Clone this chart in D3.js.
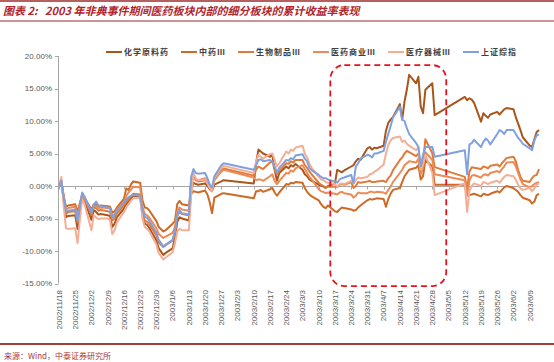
<!DOCTYPE html>
<html>
<head>
<meta charset="utf-8">
<title>2003 非典期间医药细分板块累计收益率</title>
<script src="https://d3js.org/d3.v7.min.js"></script>
<style>
  body { margin: 0; background: #fff; }
  text { font-family: Arial, "Liberation Sans", sans-serif; }
  .cjk { font-family: "Noto Sans CJK SC", sans-serif; }
</style>
</head>
<body>
<svg id="chart" width="554" height="362"></svg>
<script>
// trading dates (holidays show as straight segments)
var dates = ["2002/11/18","2002/11/19","2002/11/20","2002/11/21","2002/11/22","2002/11/25","2002/11/26","2002/11/27","2002/11/28","2002/11/29",
  "2002/12/2","2002/12/3","2002/12/4","2002/12/5","2002/12/6","2002/12/9","2002/12/10","2002/12/11","2002/12/12","2002/12/13",
  "2002/12/16","2002/12/17","2002/12/18","2002/12/19","2002/12/20","2002/12/23","2002/12/24","2002/12/25","2002/12/26","2002/12/27",
  "2002/12/30","2002/12/31","2003/1/2","2003/1/3","2003/1/6","2003/1/7","2003/1/8","2003/1/9","2003/1/10","2003/1/13",
  "2003/1/14","2003/1/15","2003/1/16","2003/1/17","2003/1/20","2003/1/21","2003/1/22","2003/1/23","2003/1/24","2003/1/27",
  "2003/1/28","2003/2/10","2003/2/11","2003/2/12","2003/2/13","2003/2/14","2003/2/17","2003/2/18","2003/2/19","2003/2/20",
  "2003/2/21","2003/2/24","2003/2/25","2003/2/26","2003/2/27","2003/2/28","2003/3/3","2003/3/4","2003/3/5","2003/3/6",
  "2003/3/7","2003/3/10","2003/3/11","2003/3/12","2003/3/13","2003/3/14","2003/3/17","2003/3/18","2003/3/19","2003/3/20",
  "2003/3/21","2003/3/24","2003/3/25","2003/3/26","2003/3/27","2003/3/28","2003/3/31","2003/4/1","2003/4/2","2003/4/3",
  "2003/4/4","2003/4/7","2003/4/8","2003/4/9","2003/4/10","2003/4/11","2003/4/14","2003/4/15","2003/4/16","2003/4/17",
  "2003/4/18","2003/4/21","2003/4/22","2003/4/23","2003/4/24","2003/4/25","2003/4/28","2003/4/29","2003/5/12","2003/5/13",
  "2003/5/14","2003/5/15","2003/5/16","2003/5/19","2003/5/20","2003/5/21","2003/5/22","2003/5/23","2003/5/26","2003/5/27",
  "2003/5/28","2003/5/29","2003/5/30","2003/6/2","2003/6/3","2003/6/4","2003/6/5","2003/6/6","2003/6/9","2003/6/10",
  "2003/6/11","2003/6/12","2003/6/13"];

// cumulative return, %
var chemApi = [0,0.6,-2.0,-4.8,-4.6,-4.5,-6.6,-3.8,-1.6,-2.3,
  -5.2,-3.7,-4.0,-4.4,-4.3,-4.5,-4.6,-6.3,-5.8,-4.8,
  -3.5,-2.8,-2.4,-2.0,-1.5,-1.6,-4.5,-5.8,-6.0,-6.5,
  -8.4,-9.6,-10.6,-10.3,-9.6,-8.0,-5.5,-4.8,-5.0,-5.3,
  -0.6,0.5,0.3,0.2,0.4,0.0,-0.5,-0.8,0.2,0.7,
  0.9,0.4,3.5,5.6,5.3,5.0,4.5,4.8,2.5,0.8,
  2.0,3.0,2.7,3.2,3.0,3.4,2.5,1.8,1.5,1.0,
  0.8,0.2,0.1,-0.1,-0.3,0.0,0.4,2.5,2.3,2.1,
  2.4,3.0,3.2,3.8,4.2,4.0,5.8,6.0,5.6,5.9,
  5.8,6.2,8.5,9.7,10.2,10.6,12.6,10.2,13.0,14.8,
  17.1,15.8,16.8,12.2,11.2,14.8,15.8,10.9,13.7,13.2,
  13.5,13.3,12.8,9.9,11.2,10.8,10.5,11.0,11.4,11.0,
  11.4,11.8,12.0,11.8,10.6,9.6,8.6,7.5,6.2,6.0,
  7.2,8.3,8.6];
var tcm = [0,0.8,-1.5,-3.2,-3.0,-2.8,-4.0,-2.6,-1.3,-1.8,
  -3.6,-2.8,-2.8,-3.1,-3.0,-3.1,-3.2,-4.1,-3.9,-3.3,
  -2.0,-0.4,-0.6,0.2,0.7,0.5,-2.2,-3.3,-3.4,-3.8,
  -5.4,-6.3,-7.0,-6.8,-5.8,-5.4,-2.8,-2.3,-2.8,-3.0,
  -1.2,-0.8,-0.9,-1.0,-0.7,-1.3,-2.5,-4.2,-1.8,-1.2,
  -1.1,-1.9,-0.8,-0.8,-0.6,-0.9,-0.5,-0.3,-1.0,-1.5,
  -1.0,0.3,0.2,0.5,0.4,0.6,0.5,-0.3,-0.9,-1.3,
  -1.6,-2.2,-2.8,-3.2,-3.4,-3.0,-3.9,-4.0,-3.6,-3.3,
  -3.4,-3.6,-3.8,-3.7,-3.3,-3.0,-2.2,-2.0,-2.1,-2.0,
  -1.9,-2.0,-3.2,-2.0,-1.2,-0.6,-0.3,0.6,1.5,2.0,
  2.5,2.8,3.2,1.0,1.5,4.0,3.0,0.2,0.2,-1.4,
  -1.4,-1.3,-1.2,-1.6,-1.2,-1.3,-1.4,-1.2,-0.8,-1.0,
  -0.6,-0.2,0.0,-0.3,-0.6,-0.9,-1.4,-1.8,-2.2,-2.7,
  -2.4,-1.4,-1.2];
var bio = [0,0.7,-1.8,-4.3,-4.0,-3.9,-5.6,-3.4,-1.4,-2.0,
  -4.4,-3.2,-3.4,-3.8,-3.7,-3.9,-4.0,-5.3,-5.0,-4.2,
  -3.0,-2.4,-2.0,-1.6,-1.2,-1.3,-4.2,-5.3,-5.5,-5.9,
  -7.6,-8.7,-9.4,-9.1,-8.4,-7.0,-4.6,-4.0,-4.3,-4.5,
  0.3,1.4,0.9,0.7,0.9,0.4,-0.3,-0.6,0.9,2.4,
  2.7,1.6,2.5,3.0,2.8,2.6,3.6,3.8,2.5,1.8,
  2.3,3.5,3.4,3.8,3.6,4.0,4.0,3.2,2.8,2.2,
  1.8,0.5,0.2,0.0,-0.2,-0.1,-0.1,-0.2,0.2,0.3,
  0.2,0.6,-0.3,0.0,0.6,0.5,0.7,0.8,0.6,0.6,
  0.7,0.8,0.6,1.2,1.6,2.4,4.0,4.4,5.0,5.4,
  5.2,4.6,5.0,3.0,3.6,7.2,5.0,2.9,1.4,-0.4,
  2.2,2.9,2.8,2.6,3.0,2.9,2.7,3.1,3.3,3.0,
  3.5,3.9,4.3,4.5,3.8,2.5,1.4,0.8,0.6,1.2,
  1.6,1.7,2.6];
var trade = [0,0.9,-1.6,-3.6,-3.4,-3.2,-4.6,-3.0,-1.3,-1.9,
  -4.0,-3.0,-3.1,-3.4,-3.3,-3.4,-3.5,-4.6,-4.3,-3.6,
  -2.5,-1.5,-1.0,-0.6,-0.1,-0.2,-3.2,-4.3,-4.5,-4.9,
  -6.5,-7.4,-8.0,-7.8,-7.2,-6.3,-3.8,-3.3,-3.6,-3.8,
  0.9,1.3,1.0,0.9,1.2,0.6,0.0,-0.5,1.0,2.2,
  2.5,1.3,0.9,1.0,1.0,0.8,1.5,1.8,0.8,0.3,
  0.8,2.0,1.9,2.4,2.2,2.7,3.2,2.6,2.0,1.4,
  1.0,-0.5,-0.8,-0.9,-1.1,-1.0,-1.2,-1.3,-1.0,-0.9,
  -1.1,-1.3,-1.8,-1.5,-1.0,-1.1,-1.1,-0.9,-0.9,-1.0,
  -0.9,-1.0,-1.2,-0.6,-0.1,0.6,2.0,2.5,3.2,3.5,
  3.8,3.6,4.2,1.8,2.8,5.2,4.0,1.8,0.9,-1.5,
  0.8,1.6,1.7,1.3,1.7,1.8,1.6,2.0,2.3,2.1,
  2.6,3.0,3.6,3.7,3.0,2.0,1.0,0.3,-0.2,0.0,
  0.3,0.5,0.6];
var device = [0,1.4,-3.0,-6.5,-6.6,-6.5,-8.8,-5.2,-2.0,-2.8,
  -6.8,-4.5,-4.8,-5.1,-5.0,-5.0,-5.2,-7.4,-6.8,-5.6,
  -4.0,-3.3,-2.8,-2.3,-1.9,-1.8,-5.0,-6.3,-6.6,-7.0,
  -9.0,-10.3,-11.3,-11.0,-10.2,-8.8,-7.0,-6.6,-6.8,-6.8,
  -1.5,2.0,1.2,0.9,1.0,0.4,-0.3,-0.8,1.2,2.8,
  3.1,2.0,3.8,4.8,4.5,4.2,4.9,5.0,4.0,3.0,
  3.5,5.3,5.0,5.6,5.4,5.9,6.2,5.0,4.4,3.4,
  2.8,1.4,1.0,0.9,0.6,0.5,0.3,-0.1,0.3,0.4,
  0.3,0.8,0.4,0.9,1.3,1.2,1.4,1.8,1.9,2.2,
  2.4,3.3,5.0,6.3,7.0,7.4,7.6,6.8,7.0,6.5,
  6.2,5.5,6.0,2.5,3.3,4.8,2.0,-1.4,0.4,-4.0,
  -0.8,0.0,0.4,0.0,0.6,0.5,0.3,0.5,0.8,0.5,
  1.0,1.4,1.7,1.5,1.0,0.2,-0.4,-0.6,-0.3,-0.8,
  -0.4,0.2,0.4];
var shIndex = [0,0.8,-1.8,-3.9,-3.8,-3.6,-5.3,-3.2,-1.0,-1.6,
  -4.1,-2.9,-2.4,-3.0,-3.1,-3.3,-3.4,-4.9,-4.5,-3.8,
  -2.6,-2.0,-1.7,-1.5,-1.4,-1.5,-3.8,-4.7,-4.9,-5.4,
  -7.2,-8.3,-9.3,-9.0,-8.3,-7.0,-4.6,-3.7,-4.2,-4.4,
  1.4,2.6,2.0,1.9,2.0,1.2,0.2,-0.2,1.5,3.2,
  3.5,2.5,3.2,4.0,4.1,3.8,4.0,3.8,3.0,2.1,
  2.8,4.0,3.9,4.3,4.1,4.7,4.9,4.2,3.8,2.8,
  2.4,1.7,1.4,1.2,1.2,1.0,0.7,0.5,1.0,1.2,
  1.3,1.7,0.4,3.0,3.5,4.2,4.8,4.7,4.4,5.0,
  5.0,5.4,6.8,8.0,9.2,10.5,12.2,10.2,10.0,8.9,
  8.0,6.6,6.0,3.0,4.8,6.0,6.0,4.5,5.5,1.8,
  6.4,6.6,7.1,6.0,6.8,7.3,7.0,6.4,8.0,8.6,
  8.4,8.0,8.6,8.6,8.0,7.4,7.0,6.5,5.8,5.5,
  7.0,7.8,7.9];

var seriesNames = ["化学原料药","中药Ⅲ","生物制品Ⅲ","医药商业Ⅲ","医疗器械Ⅲ","上证综指"];
var seriesColors = ["#a9561c","#cc6a26","#e07a3a","#ea8b58","#f4ae95","#7fa1dd"];
var seriesValues = [chemApi, tcm, bio, trade, device, shIndex];
var yTicks = [-15, -10, -5, 0, 5, 10, 15, 20];
// highlighted window (SARS outbreak)
var boxDates = ["2003/3/15", "2003/5/4"];
var boxRange = [18.6, -15.4];

var parse = d3.timeParse("%Y/%m/%d");
var svg = d3.select("#chart");

var x = d3.scaleTime()
  .domain([parse("2002/11/18"), parse("2003/6/13")])
  .range([59, 539]);
var y = d3.scaleLinear().domain([-15, 20]).range([283.5, 56]);

// header / footer rules
svg.append("line").attr("x1", 0).attr("x2", 554).attr("y1", 1).attr("y2", 1)
  .attr("stroke", "#9e2a2b").attr("stroke-width", 1.5);
svg.append("line").attr("x1", 0).attr("x2", 554).attr("y1", 21).attr("y2", 21)
  .attr("stroke", "#9e2a2b").attr("stroke-width", 1);
svg.append("line").attr("x1", 0).attr("x2", 554).attr("y1", 344).attr("y2", 344)
  .attr("stroke", "#a2403d").attr("stroke-width", 2);

svg.append("text").attr("class", "cjk").attr("x", 3).attr("y", 15)
  .attr("font-size", 11).attr("font-weight", "bold").attr("font-style", "italic")
  .attr("fill", "#b0262c")
  .text("图表 2:\u00a0\u00a0\u00a02003 年非典事件期间医药板块内部的细分板块的累计收益率表现");

svg.append("text").attr("class", "cjk").attr("x", 4).attr("y", 359)
  .attr("font-size", 8).attr("fill", "#a83a35")
  .text("来源：Wind，中泰证券研究所");

// y axis
var yAxis = svg.append("g");
yAxis.append("line").attr("x1", 58.5).attr("x2", 58.5).attr("y1", y(20)).attr("y2", y(-15))
  .attr("stroke", "#a6a6a6");
yAxis.selectAll(".yt").data(yTicks).enter().append("line")
  .attr("x1", 55).attr("x2", 58.5)
  .attr("y1", function(d) { return Math.round(y(d)) + 0.5; })
  .attr("y2", function(d) { return Math.round(y(d)) + 0.5; })
  .attr("stroke", "#a6a6a6");
yAxis.selectAll(".yl").data(yTicks).enter().append("text")
  .attr("x", 52).attr("y", function(d) { return y(d); }).attr("dy", "0.35em")
  .attr("text-anchor", "end").attr("font-size", 8).attr("fill", "#595959")
  .text(function(d) { return d.toFixed(2) + "%"; });

// x axis on zero line, labels at the bottom
var weeks = d3.timeMonday.range(parse("2002/11/18"), parse("2003/6/14"));
svg.append("line").attr("x1", 58.5).attr("x2", 539).attr("y1", Math.round(y(0)) + 0.5).attr("y2", Math.round(y(0)) + 0.5)
  .attr("stroke", "#a6a6a6");
svg.selectAll(".xt").data(weeks).enter().append("line")
  .attr("x1", function(d) { return Math.round(x(d)) + 0.5; })
  .attr("x2", function(d) { return Math.round(x(d)) + 0.5; })
  .attr("y1", Math.round(y(0)) + 0.5).attr("y2", Math.round(y(0)) + 3.5)
  .attr("stroke", "#a6a6a6");
var fmt = d3.timeFormat("%Y/%-m/%-d");
svg.selectAll(".xl").data(weeks).enter().append("text")
  .attr("transform", function(d) { return "translate(" + x(d) + ",290) rotate(-90)"; })
  .attr("dy", "0.35em").attr("text-anchor", "end")
  .attr("font-size", 8).attr("fill", "#595959")
  .text(fmt);

// series
var line = d3.line()
  .x(function(d) { return x(d[0]); })
  .y(function(d) { return y(d[1]); });
var parsed = dates.map(parse);
seriesValues.forEach(function(vals, i) {
  svg.append("path")
    .datum(parsed.map(function(dt, j) { return [dt, vals[j]]; }))
    .attr("d", line)
    .attr("fill", "none")
    .attr("stroke", seriesColors[i])
    .attr("stroke-width", 2)
    .attr("stroke-linejoin", "round");
});

// red dashed box
var bx0 = x(parse(boxDates[0])), bx1 = x(parse(boxDates[1]));
svg.append("rect")
  .attr("x", bx0).attr("y", y(boxRange[0]))
  .attr("width", bx1 - bx0).attr("height", y(boxRange[1]) - y(boxRange[0]))
  .attr("rx", 14).attr("ry", 14)
  .attr("fill", "none").attr("stroke", "#e3141e")
  .attr("stroke-width", 1.8).attr("stroke-dasharray", "6,4");

// legend
var lx = 106;
seriesNames.forEach(function(name, i) {
  var g = svg.append("g");
  g.append("line").attr("x1", lx).attr("x2", lx + 16).attr("y1", 52).attr("y2", 52)
    .attr("stroke", seriesColors[i]).attr("stroke-width", 2);
  var t = g.append("text").attr("class", "cjk").attr("x", lx + 18).attr("y", 52).attr("dy", "0.35em")
    .attr("font-size", 8).attr("font-weight", "bold").attr("fill", "#404040")
    .attr("letter-spacing", 1)
    .text(name);
  lx += 18 + t.node().getComputedTextLength() + 12;
});
</script>
</body>
</html>
